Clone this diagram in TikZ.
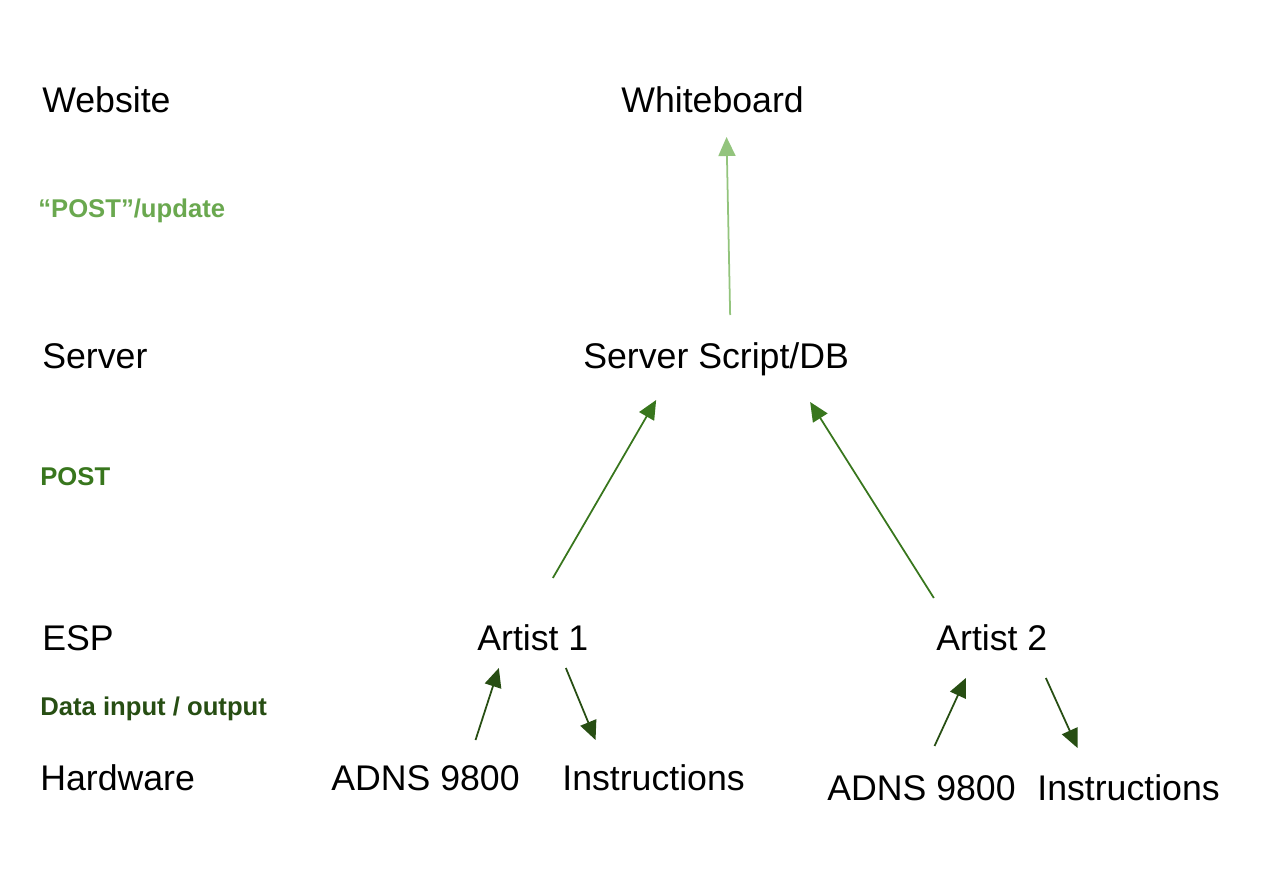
\documentclass[tikz,border=0pt]{standalone}
\usepackage{fontspec}
\setmainfont{Liberation Sans}
\usetikzlibrary{arrows.meta,calc}
\definecolor{lightgrn}{HTML}{93C47D}
\definecolor{midgrn}{HTML}{6AA84F}
\definecolor{postgrn}{HTML}{38761D}
\definecolor{darkgrn}{HTML}{274E13}
\tikzset{>={Triangle[length=0.38cm,width=0.34cm]}}
\tikzset{
  lbl/.style={anchor=base west, inner sep=0pt, font=\fontsize{20.3pt}{24pt}\selectfont},
  tag/.style={anchor=base west, inner sep=0pt, font=\fontsize{14.6pt}{17pt}\selectfont\bfseries},
  flow/.style={->, line width=1pt}
}

\begin{document}
\begin{tikzpicture}[x=0.02cm, y=-0.02cm]
                \useasboundingbox (0,0) rectangle (1266,868);

                % Draw the layer names on the left
                \node[lbl] (website) at (42,113) {Website};
                \node[tag, text=midgrn] (update) at (38,217) {“POST”/update};
                \node[lbl] (server) at (42,368) {Server};
                \node[tag, text=postgrn] (post) at (40,485) {POST};
                \node[lbl] (esp) at (42,650) {ESP};
                \node[tag, text=darkgrn] (dataio) at (40,715) {Data input / output};
                \node[lbl] (hardware) at (40,790) {Hardware};

                % Draw the parts of the system
                \node[lbl] (board) at (621,113) {Whiteboard};
                \node[lbl] (script) at (583,368) {Server Script/DB};
                \node[lbl] (artA) at (477,650) {Artist 1};
                \node[lbl] (artB) at (936,650) {Artist 2};
                \node[lbl] (adnsA) at (331,790) {ADNS 9800};
                \node[lbl] (instA) at (562,790) {Instructions};
                \node[lbl] (adnsB) at (827,800) {ADNS 9800};
                \node[lbl] (instB) at (1037,800) {Instructions};

                % Draw the arrow from the server up to the whiteboard
                \draw[flow, lightgrn] ($(script.base)+(14,-53)$) -- ($(board.base)+(14,24)$);

                % Draw the arrows from the artists up to the server
                \draw[flow, postgrn] ($(artA.base)+(20,-72)$) -- ($(script.base)+(-60,32)$);
                \draw[flow, postgrn] ($(artB.base)+(-58,-52)$) -- ($(script.base)+(94,34)$);

                % Draw the arrows between the hardware and the artists
                \draw[flow, darkgrn] ($(adnsA.base)+(50,-50)$) -- ($(artA.base)+(-34,18)$);
                \draw[flow, darkgrn] ($(artA.base)+(33,18)$) -- ($(instA.base)+(-58,-50)$);
                \draw[flow, darkgrn] ($(adnsB.base)+(13,-54)$) -- ($(artB.base)+(-26,28)$);
                \draw[flow, darkgrn] ($(artB.base)+(54,28)$) -- ($(instB.base)+(-51,-52)$);
\end{tikzpicture}
\end{document}
